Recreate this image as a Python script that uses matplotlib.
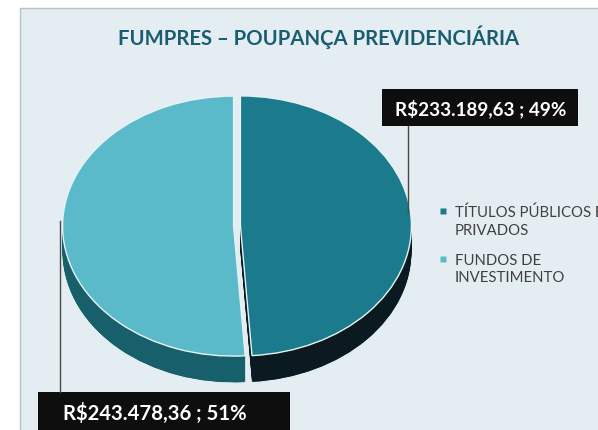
import matplotlib
matplotlib.use('Agg')
import matplotlib.pyplot as plt
from matplotlib.patches import Rectangle

# ---- data ----
categories = ['TÍTULOS PÚBLICOS E\nPRIVADOS', 'FUNDOS DE\nINVESTIMENTO']
values = [233189.63, 243478.36]
value_labels = ['R$233.189,63 ; 49%', 'R$243.478,36 ; 51%']
title = 'FUMPRES – POUPANÇA PREVIDENCIÁRIA'

top_colors = ['#1b7a8b', '#5bbac9']
side_colors = ['#0b1a20', '#185f6c']

plt.rcParams['font.family'] = ['Lato', 'DejaVu Sans']

W, H = 598, 431
fig = plt.figure(figsize=(W / 100, H / 100), dpi=100)
fig.patch.set_facecolor('white')

# background panel
bg = fig.add_axes([0, 0, 1, 1], zorder=0)
bg.set_xlim(0, W); bg.set_ylim(H, 0); bg.axis('off')
bg.add_patch(Rectangle((20, 9), W, H, facecolor='#e4edf1', edgecolor='#b5c2c8', lw=1))

# ---- 3D-looking pie ----
cx, cy = 237, 227
rx, ry = 171, 130
depth = 27
explode = [0.02, 0.02]

pax = fig.add_axes([0, 0, 1, 1], zorder=1)
for k in range(depth, 0, -1):
    wp = dict(linewidth=0, edgecolor='none')
    if k == depth:
        wp = dict(linewidth=1, edgecolor='#dfeef2')
    pax.pie(values, colors=side_colors, startangle=90, counterclock=False,
            explode=explode, center=(0, -k / ry), radius=1, wedgeprops=wp)
pax.pie(values, colors=top_colors, startangle=90, counterclock=False,
        explode=explode, center=(0, 0), radius=1,
        wedgeprops=dict(linewidth=1, edgecolor='#e6f3f6'))
pax.set_aspect('auto')
pax.set_xlim(-cx / rx, (W - cx) / rx)
pax.set_ylim(-(H - cy) / ry, cy / ry)
pax.axis('off')
pax.patch.set_alpha(0)

# ---- overlay: title, labels, legend ----
ov = fig.add_axes([0, 0, 1, 1], zorder=2)
ov.set_xlim(0, W); ov.set_ylim(H, 0); ov.axis('off')
ov.patch.set_alpha(0)

ov.text(319, 37, title, ha='center', va='center', fontsize=14.6,
        fontweight='bold', color='#1b5d70')

# leader lines
ov.plot([408, 408], [127, 213], color='#4a4a4a', lw=1)
ov.plot([60, 60], [222, 393], color='#4a4a4a', lw=1)

# label boxes
ov.add_patch(Rectangle((382, 90), 196, 37, facecolor='#0e0e0e', edgecolor='none'))
ov.text(481, 108.5, value_labels[0], ha='center', va='center', fontsize=13.6,
        fontweight='bold', color='white')
ov.add_patch(Rectangle((38, 393), 252, 45, facecolor='#0e0e0e', edgecolor='none'))
ov.text(155, 413, value_labels[1], ha='center', va='center', fontsize=14.6,
        fontweight='bold', color='white')

# legend
for lab, col, y in zip(categories, top_colors, [212, 260]):
    ov.plot([443], [y], marker='s', ms=4, color=col, mec='none')
    ov.text(455, y - 6, lab, ha='left', va='top', fontsize=10.7,
            color='#404040', linespacing=1.3)

fig.savefig('out.png', dpi=100)
